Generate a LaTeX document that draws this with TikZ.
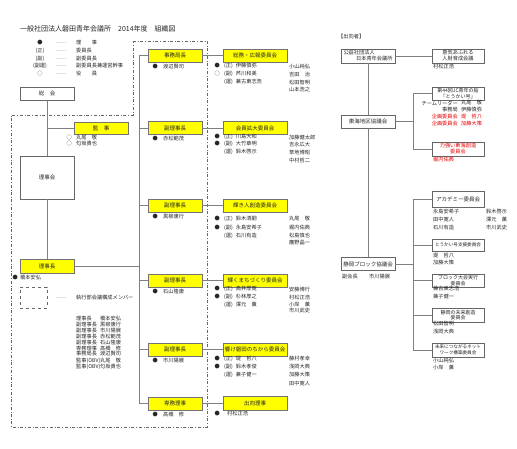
\documentclass[tikz,border=0pt]{standalone}
\usepackage{fontspec}
\setmainfont{Noto Sans CJK JP}
\usepackage{xcolor}
\usepackage{tikz}
\usetikzlibrary{arrows.meta,positioning}

\definecolor{boxyellow}{HTML}{FFFF00}
\definecolor{linegray}{HTML}{7F7F7F}

\begin{document}
\begin{tikzpicture}[x=1pt, y=-1pt,
  every node/.style={font=\fontsize{5.2}{6}\selectfont, inner sep=0pt, text=black!85},
  boxfont/.style={font=\fontsize{5.5}{6.3}\selectfont},
  yellowbox/.style={boxfont, draw=black!55, fill=boxyellow, line width=0.8pt, minimum width=54pt, minimum height=13pt, align=center},
  plainbox/.style={boxfont, draw=black!60, fill=white, line width=0.8pt, minimum width=54pt, minimum height=13pt, align=center},
  link/.style={draw=linegray, line width=1pt},
  redtext/.style={text=red!90!black}]

\useasboundingbox (0,0) rectangle (517,448);

% Title and legend
\node[anchor=west, font=\fontsize{7}{8}\selectfont] (title) at (20,29) {一般社団法人磐田青年会議所　2014年度　組織図};
\foreach \nm/\y/\k/\t in {lg1/43/●/理　　事, lg2/51/(正)/委員長, lg3/59/(副)/副委員長, lg4/66/(副運)/副委員長兼運営幹事, lg5/74/○/役　　員}{%
  \node (\nm-key) at (40,\y) {\k};
  \node (\nm-dots) at (61,\y) {……};
  \node[anchor=west] (\nm) at (76,\y) {\t};
}

% Executive area (dash-dot)
\draw[dash dot, draw=black!60, line width=0.8pt] (133,41) -- (207,41) -- (207,427) -- (11,427) -- (11,115) -- (133,115) -- cycle;

% General assembly, auditors, board, president
\node[plainbox] (sokai) at (47,93.5) {総　会};
\node[yellowbox, minimum height=12pt] (kanji) at (101,128) {監　事};
\node[plainbox, minimum height=43pt] (rijikai) at (47,177.5) {理事会};
\node[yellowbox, minimum height=14pt] (rijicho) at (47,266) {理事長};
\draw[link] (sokai) -- (rijikai);
\draw[link] (rijikai) -- (rijicho);
\draw[link] (kanji.west) -- (kanji.west -| sokai.south);
\node[anchor=west] (kanji-1) at (65,137.5) {\makebox[8pt]{○}\hspace{3pt}丸尾　敬};
\node[anchor=west] (kanji-2) at (65,143.5) {\makebox[8pt]{○}\hspace{3pt}匂坂貴也};
\node[anchor=west] (rijicho-name) at (11,277.5) {\makebox[8pt]{●}\hspace{1pt}橋本安弘};

% Executive meeting members
\node[draw=black!60, dashed, line width=0.8pt, minimum width=27pt, minimum height=21pt] (exec-key) at (33.5,297.5) {};
\node (exec-dots) at (61,298) {……};
\node[anchor=west] (exec-label) at (76,298) {執行部会議構成メンバー};
\foreach \nm/\y/\role/\who in {ex1/319/理事長/橋本安弘, ex2/325/副理事長/黒柳康行, ex3/331/副理事長/市川陽展, ex4/337/副理事長/赤松範茂, ex5/343/副理事長/石山隆康, ex6/348.5/専務理事/高橋　修, ex7/354/事務局長/渡辺賢司, ex8/361/監事(OBV)/丸尾　敬, ex9/367/監事(OBV)/匂坂貴也}{%
  \node[anchor=west] (\nm-role) at (76,\y) {\role};
  \node[anchor=west] (\nm) at (100,\y) {\who};
}

% Executive column
\node[yellowbox] (jimu) at (175,55.5) {事務局長};
\node[yellowbox] (fuku1) at (175,128) {副理事長};
\node[yellowbox] (fuku2) at (175,205.5) {副理事長};
\node[yellowbox] (fuku3) at (175,280.5) {副理事長};
\node[yellowbox] (fuku4) at (175,349.5) {副理事長};
\node[yellowbox] (senmu) at (175,403.5) {専務理事};
\foreach \src/\who in {jimu/渡辺賢司, fuku1/赤松範茂, fuku2/黒柳康行, fuku3/石山隆康, fuku4/市川陽展, senmu/高橋　修}
  \node[anchor=west] (\src-name) at ([shift={(-24,4)}]\src.south) {\makebox[8pt]{●}\hspace{4pt}\who};

\coordinate (exec-bus) at (139,55.5);
\draw[link] (rijicho.east) -- (rijicho.east -| exec-bus);
\draw[link] (jimu.west) -- (jimu.west -| exec-bus) -- (senmu.west -| exec-bus) -- (senmu.west);
\foreach \b in {fuku1, fuku2, fuku3, fuku4}
  \draw[link] (\b.west) -- (\b.west -| exec-bus);

% Committees
\node[yellowbox, minimum width=64pt] (soumu) at (255,55.5) {総務・広報委員会};
\node[yellowbox, minimum width=64pt] (kaiin) at (255,128) {会員拡大委員会};
\node[yellowbox, minimum width=64pt] (kagayaki) at (255,205.5) {輝き人創造委員会};
\node[yellowbox, minimum width=64pt] (machi) at (255,280.5) {輝くまちづくり委員会};
\node[yellowbox, minimum width=64pt] (hibike) at (255,349.5) {響け磐田のちから委員会};
\node[yellowbox, minimum width=64pt, minimum height=14pt] (shukko) at (255,403.5) {出向理事};
\foreach \a/\b in {jimu/soumu, fuku1/kaiin, fuku2/kagayaki, fuku3/machi, fuku4/hibike, senmu/shukko}
  \draw[link] (\a.east) -- (\b.west);

% Committee chairs
\foreach \nm/\y/\bul/\rl/\who in {so1/66/●/(正)/伊藤慎弥, so2/73.5/○/(副)/芦川和美, so3/82//(運)/兼古東志浩,
    ka1/137/●/(正)/川島大和, ka2/144/●/(副)/大竹章明, ka3/152//(運)/鈴木啓示,
    kg1/219/●/(正)/鈴木清嗣, kg2/228/●/(副)/永島安希子, kg3/236//(運)/石川有造,
    ma1/289/●/(正)/高井厚寛, ma2/297/●/(副)/杉林厚之, ma3/305//(運)/澤元　薫,
    hi1/359/●/(正)/堤　哲八, hi2/367/●/(副)/鈴木孝俊, hi3/375//(運)/兼子健一,
    sk1/414/●//村松正浩}
  \node[anchor=west] (\nm) at (213,\y) {\makebox[8pt]{\bul}\hspace{3pt}\rl\hspace{3pt}\who};

% Committee members
\foreach \nm/\y/\who in {so4/67/小山純弘, so5/75/吉田　治, so6/82.5/松田智明, so7/90/山本浩之,
    ka4/137.5/加藤健太郎, ka5/145/吉永広大, ka6/153/草地博昭, ka7/161/中村哲二,
    kg4/219/丸尾　敬, kg5/228/堀内佑典, kg6/236/松島慎也, kg7/243/鷹野晶一,
    ma4/290/安藤博行, ma5/298/村松正浩, ma6/304.5/小岸　薫, ma7/311/市川武史,
    hi4/359/藤村孝幸, hi5/367/浅岡大典, hi6/375/加藤大策, hi7/384/田中寛人}
  \node[anchor=west] (\nm) at (289,\y) {\who};

% Seconded members
\node[anchor=west] (shukko-head) at (338,37) {【出向者】};
\node[plainbox, minimum height=14pt, font=\fontsize{5.2}{6}\selectfont] (jc) at (368,56) {\makebox[49pt][l]{公益社団法人}\\\makebox[49pt][r]{日本青年会議所}};
\node[plainbox, minimum width=52pt, minimum height=14pt, font=\fontsize{5.2}{6}\selectfont] (iki) at (458,56) {意気あふれる\\人財育成会議};
\node[anchor=west] (iki-name) at (433,67) {村松正浩};
\draw[link] (jc.east) -- (iki.west);

\node[plainbox] (tokai) at (368,121.5) {東海地区協議会};
\node[plainbox, minimum width=52pt, font=\fontsize{5}{6}\selectfont] (ship) at (458,93.5) {第44回JC青年の船\\「とうかい号」};
\foreach \nm/\y/\role/\who/\col in {ship-1/103/チームリーダー/丸尾　敬/black!85, ship-2/110/事務局/伊藤慎弥/black!85, ship-3/117/企画委員会/堤　哲八/red!90!black, ship-4/124/企画委員会/加藤大策/red!90!black}{%
  \node[anchor=east, text=\col] (\nm-role) at (458,\y) {\role};
  \node[anchor=west, text=\col] (\nm) at (461,\y) {\who};
}
\node[plainbox, redtext, minimum width=52pt, minimum height=14pt, font=\fontsize{5.2}{6}\selectfont] (rikidai) at (458,149) {力強い東海創造\\委員会};
\node[anchor=west, redtext] (rikidai-name) at (433,160) {堀内佑典};
\draw[link] (jc.south) -- (tokai.north);
\coordinate (tokai-bus) at (413,121.5);
\draw[link] (tokai.east) -- (tokai-bus);
\draw[link] (ship.west) -- (ship.west -| tokai-bus) -- (rikidai.west -| tokai-bus) -- (rikidai.west);

% Shizuoka block
\node[plainbox] (shizuoka) at (368,264) {静岡ブロック協議会};
\node[anchor=west] (fukukaicho) at (342,277) {副会長};
\node[anchor=west] (fukukaicho-name) at (369,277) {市川陽展};
\draw[link] (tokai.south) -- (shizuoka.north);

\node[plainbox, minimum width=52pt, minimum height=16pt] (academy) at (458,199) {アカデミー委員会};
\node[plainbox, minimum width=52pt, minimum height=12pt, font=\fontsize{4.6}{5.5}\selectfont] (shien) at (458,245) {とうかい号支援委員会};
\node[plainbox, minimum width=52pt, minimum height=13pt, font=\fontsize{5}{5.8}\selectfont] (taikai) at (458,280.5) {ブロック大会実行\\委員会};
\node[plainbox, minimum width=52pt, minimum height=14pt, font=\fontsize{5}{5.8}\selectfont] (mirai) at (458,315) {静岡の未来創造\\委員会};
\node[plainbox, minimum width=52pt, minimum height=14pt, font=\fontsize{4.6}{5.8}\selectfont] (network) at (458,350) {未来につながるネット\\ワーク構築委員会};
\coordinate (block-bus) at (413,264);
\draw[link] (shizuoka.east) -- (block-bus);
\draw[link] (academy.west) -- (academy.west -| block-bus) -- (network.west -| block-bus) -- (network.west);
\foreach \b in {shien, taikai, mirai}
  \draw[link] (\b.west) -- (\b.west -| block-bus);

\foreach \nm/\x/\y/\who in {ac1/433/212/永島安希子, ac2/486/212/鈴木啓示, ac3/433/220/田中寛人, ac4/486/220/澤元　薫, ac5/433/228/石川有造, ac6/486/228/市川武史,
    sn1/433/256/堤　哲八, sn2/433/263/加藤大策,
    tk1/433/289/兼古東志浩, tk2/433/297/兼子健一,
    mr1/433/324/松田智明, mr2/433/332/浅岡大典,
    nw1/433/361/小山純弘, nw2/433/368/小岸　薫}
  \node[anchor=west] (\nm) at (\x,\y) {\who};

\end{tikzpicture}
\end{document}
